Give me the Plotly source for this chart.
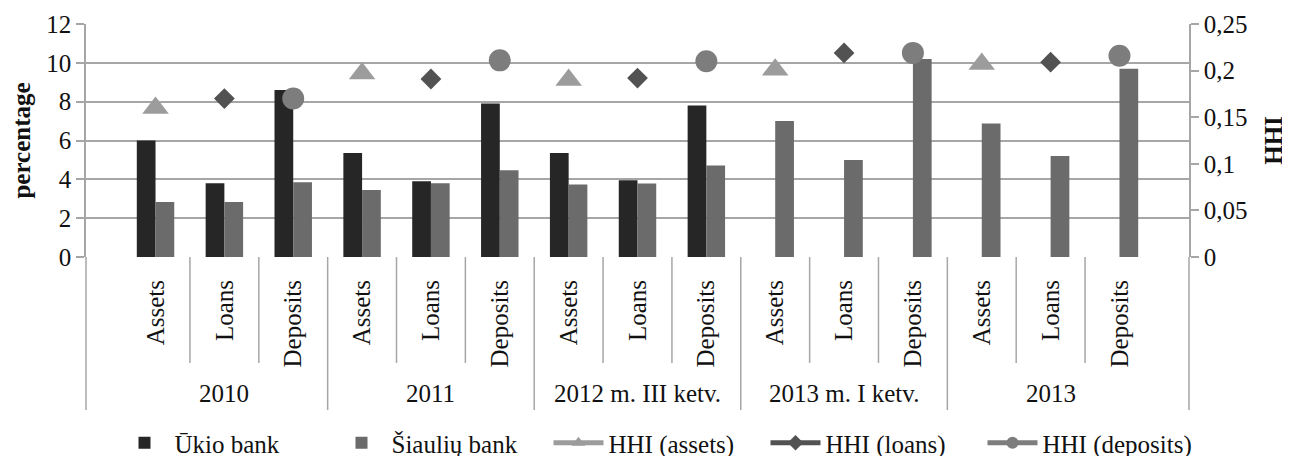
import plotly.graph_objects as go

groups = ["2010", "2011", "2012 m. III ketv.", "2013 m. I ketv.", "2013"]
cats = ["Assets", "Loans", "Deposits"]

ukio = [6.0, 3.8, 8.6, 5.35, 3.9, 7.9, 5.35, 3.95, 7.8, None, None, None, None, None, None]
siauliu = [2.83, 2.83, 3.85, 3.45, 3.8, 4.47, 3.73, 3.78, 4.71, 7.0, 5.0, 10.2, 6.87, 5.2, 9.7]

hhi_assets = [0.16, None, None, 0.197, None, None, 0.19, None, None, 0.201, None, None, 0.207, None, None]
hhi_loans = [None, 0.17, None, None, 0.191, None, None, 0.192, None, None, 0.219, None, None, 0.209, None]
hhi_deposits = [None, None, 0.17, None, None, 0.211, None, None, 0.21, None, None, 0.219, None, None, 0.216]

left_ticks = [0, 2, 4, 6, 8, 10, 12]
right_ticks = [0, 0.05, 0.1, 0.15, 0.2, 0.25]
right_tick_text = ["0", "0,05", "0,1", "0,15", "0,2", "0,25"]

xkeys = [f"{g}|{c}" for g in groups for c in cats]
xlabels = [c for g in groups for c in cats]

FONT = "Liberation Serif, Times New Roman, serif"
FS = 25
GRID = "#a6a6a6"
TXT = "#111111"

# page body has an 8px offset; plot area target: x 86..1189, y 24..257 (window px)
OFF = 8
W, H = 1290, 456
L = 86 - OFF
T = 24 - OFF
R = W - (1189 - OFF)
B = H - (257 - OFF)
PH = 257 - 24

fig = go.Figure()
fig.add_trace(go.Bar(x=xkeys, y=ukio, name="Ūkio bank", marker=dict(color="#262626", line=dict(width=0))))
fig.add_trace(go.Bar(x=xkeys, y=siauliu, name="Šiaulių bank", marker=dict(color="#6b6b6b", line=dict(width=0))))

fig.add_trace(go.Scatter(x=xkeys, y=hhi_assets, yaxis="y2", mode="markers", showlegend=False,
                         marker=dict(symbol="triangle-up", size=23, color="#9c9c9c")))
fig.add_trace(go.Scatter(x=xkeys, y=hhi_loans, yaxis="y2", mode="markers", showlegend=False,
                         marker=dict(symbol="diamond", size=16, color="#525252")))
fig.add_trace(go.Scatter(x=xkeys, y=hhi_deposits, yaxis="y2", mode="markers", showlegend=False,
                         marker=dict(symbol="circle", size=22, color="#7d7d7d")))

# legend-only entries (line + marker, as in the original legend)
for nm, sym, col in [("HHI (assets)", "triangle-up", "#9c9c9c"),
                     ("HHI (loans)", "diamond", "#525252"),
                     ("HHI (deposits)", "circle", "#7d7d7d")]:
    fig.add_trace(go.Scatter(x=[None], y=[None], yaxis="y2", mode="lines+markers", name=nm,
                             line=dict(color=col, width=5),
                             marker=dict(symbol=sym, size=12, color=col)))

shapes = []
n = len(xkeys)
# inner category separators
for i in range(n - 1):
    if (i + 1) % 3 == 0:
        continue
    shapes.append(dict(type="line", xref="x", yref="paper", x0=i + 0.5, x1=i + 0.5,
                       y0=0, y1=-106 / PH, line=dict(color=GRID, width=1.5)))
# group separators
for i in range(2, n - 1, 3):
    shapes.append(dict(type="line", xref="x", yref="paper", x0=i + 0.5, x1=i + 0.5,
                       y0=0, y1=-153 / PH, line=dict(color=GRID, width=1.5)))
for xp in [0, 1]:
    shapes.append(dict(type="line", xref="paper", yref="paper", x0=xp, x1=xp,
                       y0=0, y1=-153 / PH, line=dict(color=GRID, width=1.5)))

annotations = []
for gi, g in enumerate(groups):
    annotations.append(dict(text=g, xref="x", yref="paper", x=gi * 3 + 1, y=0, yshift=-136,
                            showarrow=False, xanchor="center", yanchor="middle",
                            font=dict(family=FONT, size=FS, color=TXT)))

fig.update_layout(
    width=W, height=H,
    margin=dict(l=L, r=R, t=T, b=B, autoexpand=False),
    paper_bgcolor="white", plot_bgcolor="white",
    barmode="group", bargap=0.456, bargroupgap=0,
    font=dict(family=FONT, size=FS, color=TXT),
    separators=", ",
    shapes=shapes, annotations=annotations,
    xaxis=dict(type="category", tickvals=xkeys, ticktext=xlabels, tickangle=-90,
               showgrid=False, ticks="outside", ticklen=12, tickcolor="rgba(0,0,0,0)",
               showline=False, zeroline=False,
               tickfont=dict(family=FONT, size=FS, color=TXT)),
    yaxis=dict(range=[0, 12], tickvals=left_ticks, showgrid=True, gridcolor=GRID, gridwidth=1.5,
               showline=True, linecolor=GRID, linewidth=1.5, ticks="outside", ticklen=8,
               tickcolor=GRID, tickwidth=1.5, zeroline=False,
               title=dict(text="<b>percentage</b>", standoff=14, font=dict(family=FONT, size=FS, color=TXT)),
               tickfont=dict(family=FONT, size=FS, color=TXT)),
    yaxis2=dict(range=[0, 0.25], tickvals=right_ticks, ticktext=right_tick_text, overlaying="y",
                side="right", showgrid=False, showline=True, linecolor=GRID, linewidth=1.5,
                ticks="outside", ticklen=8, tickcolor=GRID, tickwidth=1.5, zeroline=False,
                title=dict(text="<b>HHI</b>", standoff=18, font=dict(family=FONT, size=FS, color=TXT)),
                tickfont=dict(family=FONT, size=FS, color=TXT)),
    legend=dict(orientation="h", x=(657 - 86) / 1103, xanchor="center",
                yref="container", y=1 - (443 - OFF) / H, yanchor="middle",
                font=dict(family=FONT, size=FS, color=TXT), entrywidth=152,
                itemwidth=50, tracegroupgap=0, bgcolor="rgba(0,0,0,0)"),
)

fig.write_html("out.html")
